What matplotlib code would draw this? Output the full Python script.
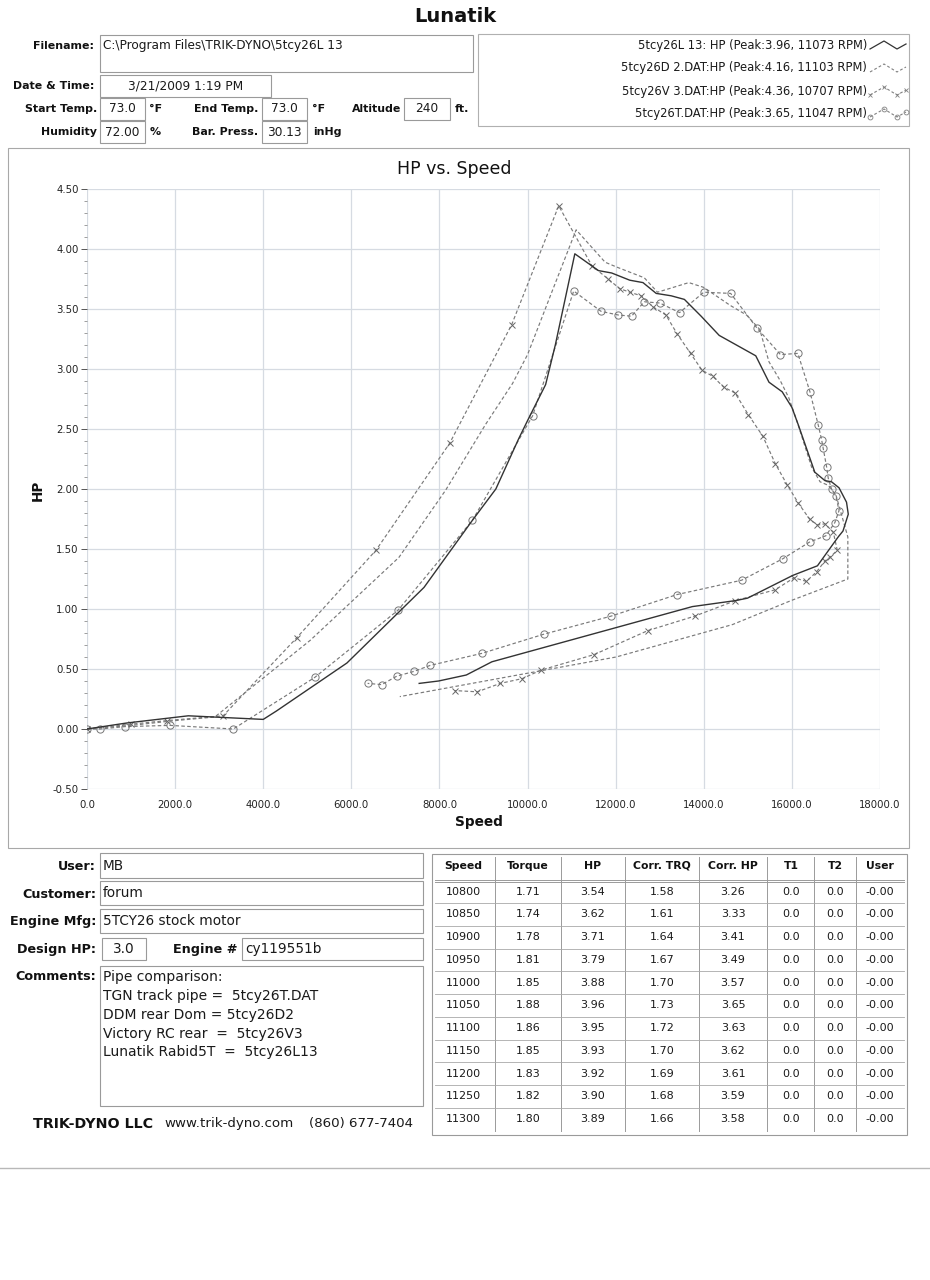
import matplotlib
matplotlib.use("Agg")
import matplotlib.pyplot as plt
from matplotlib.patches import Rectangle
import numpy as np

# ---------------- data ----------------
rpm_L = [0, 900, 2300, 4000, 4300, 5900, 7650, 8750, 9280, 9800, 10000, 10410, 10630, 11073,
         11610, 11910, 12320, 12620, 12920, 13260, 13560, 13940, 14350, 15180, 15480, 15780,
         16000, 16150, 16520, 16750, 16900, 17070, 17240, 17280, 17160, 17050, 16580, 16020,
         14990, 14720, 13740, 11960, 9190, 8610, 7980, 7540]
hp_L = [0.00, 0.05, 0.11, 0.08, 0.15, 0.55, 1.18, 1.74, 2.00, 2.42, 2.57, 2.87, 3.20, 3.96,
        3.82, 3.80, 3.74, 3.72, 3.63, 3.61, 3.58, 3.44, 3.28, 3.11, 2.89, 2.81,
        2.68, 2.53, 2.14, 2.07, 2.06, 2.01, 1.89, 1.79, 1.65, 1.60, 1.36, 1.28,
        1.09, 1.07, 1.02, 0.84, 0.56, 0.45, 0.40, 0.38]

rpm_D = [0, 1000, 2000, 2900, 5070, 7080, 8140, 9050, 9660, 10000, 10560, 11103,
         11760, 12020, 12650, 12950, 13660, 14000, 14600, 14970, 15270, 15480, 15740,
         15930, 16110, 16450, 16640, 16830, 17000, 17270, 17270, 15980, 14650, 12010, 7100]
hp_D = [0.00, 0.03, 0.07, 0.10, 0.74, 1.43, 1.99, 2.54, 2.88, 3.12, 3.65, 4.16,
        3.89, 3.85, 3.76, 3.64, 3.72, 3.68, 3.53, 3.45, 3.33, 3.06, 2.90,
        2.76, 2.57, 2.18, 2.06, 2.03, 1.95, 1.60, 1.25, 1.07, 0.87, 0.60, 0.27]

rpm_V = [0, 1000, 1810, 3090, 4760, 6560, 8230, 9640, 10707, 11460, 11830, 12090,
         12320, 12580, 12840, 13140, 13400, 13700, 13960, 14200, 14450, 14710, 15010,
         15340, 15625, 15900, 16150, 16400, 16580, 16750, 16940, 17030, 16860, 16750,
         16560, 16330, 16050, 15620, 14720, 13790, 12730, 11510, 10300, 9880, 9380,
         8860, 8350]
hp_V = [0.00, 0.04, 0.07, 0.11, 0.76, 1.49, 2.38, 3.37, 4.36, 3.86, 3.75, 3.67,
        3.64, 3.61, 3.52, 3.45, 3.29, 3.13, 2.99, 2.94, 2.85, 2.80, 2.62,
        2.44, 2.21, 2.03, 1.88, 1.75, 1.70, 1.71, 1.64, 1.49, 1.43, 1.40,
        1.31, 1.23, 1.26, 1.16, 1.07, 0.94, 0.82, 0.62, 0.49, 0.42, 0.38,
        0.31, 0.32]

rpm_T = [0, 300, 860, 1890, 3320, 5170, 7060, 8750, 10115, 11047, 11670, 12060,
         12360, 12650, 13000, 13450, 14000, 14610, 15210, 15740, 16135, 16410, 16600,
         16675, 16710, 16790, 16825, 16900, 17000, 17070, 16975, 16770, 16410, 15800,
         14860, 13390, 11890, 10370, 8960, 7790, 7420, 7030, 6690, 6370]
hp_T = [0.00, 0.00, 0.02, 0.03, 0.00, 0.43, 0.99, 1.74, 2.61, 3.65, 3.48, 3.45,
        3.44, 3.56, 3.55, 3.47, 3.64, 3.63, 3.34, 3.12, 3.13, 2.81, 2.53,
        2.41, 2.34, 2.18, 2.09, 2.00, 1.94, 1.82, 1.72, 1.61, 1.56, 1.42,
        1.24, 1.12, 0.94, 0.79, 0.63, 0.53, 0.48, 0.44, 0.37, 0.38]

legend_labels = ["5tcy26L 13: HP (Peak:3.96, 11073 RPM)",
                 "5tcy26D 2.DAT:HP (Peak:4.16, 11103 RPM)",
                 "5tcy26V 3.DAT:HP (Peak:4.36, 10707 RPM)",
                 "5tcy26T.DAT:HP (Peak:3.65, 11047 RPM)"]

x_ticks = [0, 2000, 4000, 6000, 8000, 10000, 12000, 14000, 16000, 18000]
y_ticks = [-0.5, 0.0, 0.5, 1.0, 1.5, 2.0, 2.5, 3.0, 3.5, 4.0, 4.5]

tbl_cols = ["Speed", "Torque", "HP", "Corr. TRQ", "Corr. HP", "T1", "T2", "User"]
tbl_speed = [10800, 10850, 10900, 10950, 11000, 11050, 11100, 11150, 11200, 11250, 11300]
tbl_torque = [1.71, 1.74, 1.78, 1.81, 1.85, 1.88, 1.86, 1.85, 1.83, 1.82, 1.80]
tbl_hp = [3.54, 3.62, 3.71, 3.79, 3.88, 3.96, 3.95, 3.93, 3.92, 3.90, 3.89]
tbl_ctrq = [1.58, 1.61, 1.64, 1.67, 1.70, 1.73, 1.72, 1.70, 1.69, 1.68, 1.66]
tbl_chp = [3.26, 3.33, 3.41, 3.49, 3.57, 3.65, 3.63, 3.62, 3.61, 3.59, 3.58]
tbl_t1 = [0.0] * 11
tbl_t2 = [0.0] * 11
tbl_user = ["-0.00"] * 11

comments = ["Pipe comparison:", "TGN track pipe =  5tcy26T.DAT", "DDM rear Dom = 5tcy26D2",
            "Victory RC rear  =  5tcy26V3", "Lunatik Rabid5T  =  5tcy26L13"]

# ---------------- figure ----------------
W, H = 930, 1280
fig = plt.figure(figsize=(W / 100, H / 100), dpi=100)
fig.patch.set_facecolor("white")
ov = fig.add_axes([0, 0, 1, 1])
ov.set_xlim(0, W)
ov.set_ylim(H, 0)
ov.axis("off")

BOX = "#9a9a9a"
LAB = "#111111"
FONT = "DejaVu Sans"


def box(x0, y0, x1, y1, ec=BOX, lw=0.8):
    ov.add_patch(Rectangle((x0, y0), x1 - x0, y1 - y0, fill=False, ec=ec, lw=lw))


def lab(x, y, s, size=7.9, ha="right", weight="bold", **kw):
    ov.text(x, y, s, ha=ha, va="center", fontsize=size, fontweight=weight,
            color=LAB, family=FONT, **kw)


def val(x, y, s, size=8.7, ha="left", **kw):
    ov.text(x, y, s, ha=ha, va="center", fontsize=size, color="#1a1a1a", family=FONT, **kw)


# Title
ov.text(455, 17, "Lunatik", ha="center", va="center", fontsize=14, fontweight="bold",
        family=FONT, color="#111111")

# header fields
lab(94, 46, "Filename:")
box(100, 35, 473, 72)
val(103, 45, r"C:\Program Files\TRIK-DYNO\5tcy26L 13")
lab(94, 86, "Date & Time:")
box(100, 75, 271, 97)
val(186, 86, "3/21/2009 1:19 PM", ha="center")
lab(97, 109, "Start Temp.")
box(100, 98, 145, 120)
val(122, 109, "73.0", ha="center")
lab(149, 109, "°F", ha="left")
lab(258, 109, "End Temp.")
box(262, 98, 307, 120)
val(284, 109, "73.0", ha="center")
lab(312, 109, "°F", ha="left")
lab(401, 109, "Altitude")
box(404, 98, 450, 120)
val(427, 109, "240", ha="center")
lab(455, 109, "ft.", ha="left")
lab(97, 132, "Humidity")
box(100, 121, 145, 143)
val(122, 132, "72.00", ha="center")
lab(150, 132, "%", ha="left")
lab(258, 132, "Bar. Press.")
box(262, 121, 307, 143)
val(284, 132, "30.13", ha="center")
lab(313, 132, "inHg", ha="left")

# legend box
box(478, 34, 909, 126, ec="#b0b0b0")
leg_y = [45, 68, 91, 113]
for yy, s in zip(leg_y, legend_labels):
    val(867, yy, s, size=8.3, ha="right")
zig_dx = np.array([0, 14, 27, 36])
zig_dy = np.array([4, -4, 4, -1])
styles = [dict(color="#333333", ls="-", lw=0.9, marker=None),
          dict(color="#808080", ls=(0, (2.5, 2)), lw=0.8, marker=None),
          dict(color="#808080", ls=(0, (2.5, 2)), lw=0.8, marker="x", ms=3.5, mew=0.6),
          dict(color="#808080", ls=(0, (2.5, 2)), lw=0.8, marker="o", ms=3.5, mew=0.6, mfc="none")]
for yy, st in zip(leg_y, styles):
    ov.plot(870 + zig_dx, yy + zig_dy, **st)

# chart panel border
box(8, 148, 909, 848, ec="#a8a8a8")
ov.text(454, 169, "HP vs. Speed", ha="center", va="center", fontsize=12.5, family=FONT,
        color="#111111")
lab(479, 822, "Speed", size=9.8, ha="center")
ov.text(38, 490, "HP", ha="center", va="center", rotation=90, fontsize=9.8,
        fontweight="bold", family=FONT, color=LAB)

# ---------------- main plot ----------------
ax = fig.add_axes([87 / W, 1 - 789 / H, 793 / W, 600 / H])
ax.set_facecolor("none")
ax.set_xlim(0, 18000)
ax.set_ylim(-0.5, 4.5)
for sp in ax.spines.values():
    sp.set_visible(False)
ax.set_xticks(x_ticks)
ax.set_xticklabels([f"{v:.1f}" for v in x_ticks])
ax.set_yticks(y_ticks)
ax.set_yticklabels([f"{v:.2f}" for v in y_ticks])
ax.set_yticks(np.arange(-0.5, 4.51, 0.1), minor=True)
ax.tick_params(axis="x", length=0, pad=8, labelsize=7.3, labelcolor="#222222")
ax.tick_params(axis="y", which="major", length=4, width=0.7, color="#555555", pad=2,
               labelsize=7.3, labelcolor="#222222")
ax.tick_params(axis="y", which="minor", length=2, width=0.5, color="#777777")
ax.grid(True, which="major", color="#d6dbe2", lw=0.9)
ax.set_axisbelow(True)

dash = (0, (3, 2))
ax.plot(rpm_T, hp_T, color="#7a7a7a", ls=dash, lw=0.85, marker="o", ms=5.2, mew=0.7,
        mfc="none", mec="#777777")
ax.plot(rpm_V, hp_V, color="#7a7a7a", ls=dash, lw=0.85, marker="x", ms=4.5, mew=0.7,
        mec="#666666")
ax.plot(rpm_D, hp_D, color="#7a7a7a", ls=dash, lw=0.85)
ax.plot(rpm_L, hp_L, color="#333333", lw=1.0)

# ---------------- bottom form ----------------
lab(96, 866, "User:", size=9.2)
box(100, 853, 423, 878)
val(103, 866, "MB", size=9.8)
lab(96, 894, "Customer:", size=9.2)
box(100, 881, 423, 905)
val(103, 893, "forum", size=9.8)
lab(96, 921, "Engine Mfg:", size=9.2)
box(100, 909, 423, 933)
val(103, 921, "5TCY26 stock motor", size=9.8)
lab(96, 949, "Design HP:", size=9.2)
box(102, 938, 146, 960)
val(124, 949, "3.0", size=9.8, ha="center")
lab(237, 949, "Engine #", size=9.2)
box(242, 938, 423, 960)
val(245, 949, "cy119551b", size=9.8)
lab(96, 977, "Comments:", size=9.2)
box(100, 966, 423, 1106)
for i, line in enumerate(comments):
    val(103, 977.5 + i * 18.7, line, size=10.0)
lab(33, 1124, "TRIK-DYNO LLC", size=10.3, ha="left")
val(164, 1124, "www.trik-dyno.com", size=9.6)
val(309, 1124, "(860) 677-7404", size=9.6)

# ---------------- table ----------------
tx0, tx1, ty0, ty1 = 432, 907, 854, 1135
box(tx0, ty0, tx1, ty1, ec="#9a9a9a")
col_cx = [463, 528, 593, 662, 733, 791, 835, 880]
col_sep = [495, 561, 625, 699, 767, 814, 856]
for xs in col_sep:
    ov.plot([xs, xs], [857, 1131], color="#9a9a9a", lw=0.7)
for c, h in zip(col_cx, tbl_cols):
    lab(c, 866, h, size=7.8, ha="center")
ov.plot([435, 904], [879.5, 879.5], color="#9a9a9a", lw=0.7)
ov.plot([435, 904], [881.5, 881.5], color="#9a9a9a", lw=0.7)
row_h = 22.75
for r in range(len(tbl_speed)):
    yc = 891.7 + r * row_h
    vals = [str(tbl_speed[r]), f"{tbl_torque[r]:.2f}", f"{tbl_hp[r]:.2f}", f"{tbl_ctrq[r]:.2f}",
            f"{tbl_chp[r]:.2f}", f"{tbl_t1[r]:.1f}", f"{tbl_t2[r]:.1f}", tbl_user[r]]
    for c, v in zip(col_cx, vals):
        val(c, yc, v, size=8.0, ha="center")
    if r < len(tbl_speed) - 1:
        ov.plot([435, 904], [yc + row_h / 2, yc + row_h / 2], color="#a8a8a8", lw=0.6)

# page edge from scan
ov.plot([0, W], [1168, 1168], color="#b8b8b8", lw=1.0)

fig.savefig("out.png", dpi=100, facecolor="white")
